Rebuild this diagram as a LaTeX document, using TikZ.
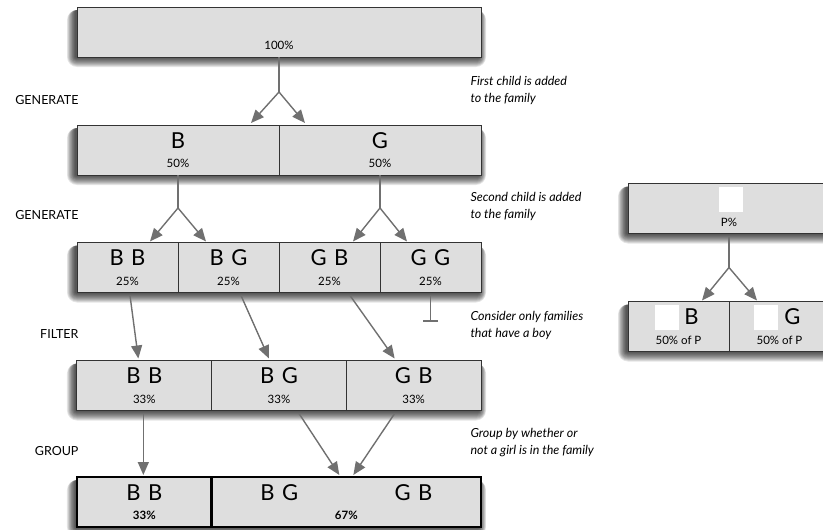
\documentclass[tikz,border=0pt]{standalone}
\usepackage{fontspec}
\setmainfont{Lato}
\usetikzlibrary{arrows.meta,positioning,calc,fit,backgrounds}

\definecolor{cellgrey}{HTML}{DEDEDE}
\definecolor{flowgrey}{HTML}{707070}

\newcommand{\kids}[1]{{\fontsize{22}{19.5}\selectfont\mdseries #1}}
\newcommand{\pair}[2]{#1\hspace{0.34em}#2}

\begin{document}
\begin{tikzpicture}
  [x=1pt,y=-1pt,
  cell/.style={rectangle,draw=black!80,fill=cellgrey,line width=1pt,inner sep=0pt,outer sep=0pt,
    minimum height=50pt,align=center,font=\fontsize{11.5}{19.5}\selectfont},
  cellbold/.style={cell,draw=black,line width=2.6pt,font=\bfseries\fontsize{11.5}{19.5}\selectfont},
  whitesq/.style={rectangle,fill=white,inner sep=0pt,minimum width=24pt,minimum height=25pt},
  steplabel/.style={anchor=east,font=\fontsize{12.5}{14}\selectfont},
  note/.style={anchor=west,align=left,font=\itshape\fontsize{12.5}{17}\selectfont},
  line/.style={draw=flowgrey,line width=1.4pt},
  flow/.style={line,-{Triangle[length=13pt,width=11pt]}},
  stopper/.style={line,-{Bar[width=15pt]}}]

  \useasboundingbox (0,0) rectangle (823,530);

  % first row: everybody
  \node [cell,minimum width=404pt] (all) at (279,32) {\kids{\phantom{B}}\\100\%};

  % one child
  \node [cell,minimum width=202pt] (b2) at (178,150) {\kids{B}\\50\%};
  \node [cell,minimum width=202pt,right=0pt of b2] (g2) {\kids{G}\\50\%};

  % two children
  \node [cell,minimum width=101pt] (bb3) at (127.5,267.5) {\kids{\pair BB}\\25\%};
  \node [cell,minimum width=101pt,right=0pt of bb3] (bg3) {\kids{\pair BG}\\25\%};
  \node [cell,minimum width=101pt,right=0pt of bg3] (gb3) {\kids{\pair GB}\\25\%};
  \node [cell,minimum width=101pt,right=0pt of gb3] (gg3) {\kids{\pair GG}\\25\%};

  % filtered
  \node [cell,minimum width=134.67pt] (bb4) at (144.33,385.5) {\kids{\pair BB}\\33\%};
  \node [cell,minimum width=134.67pt,right=0pt of bb4] (bg4) {\kids{\pair BG}\\33\%};
  \node [cell,minimum width=134.67pt,right=0pt of bg4] (gb4) {\kids{\pair GB}\\33\%};

  % grouped
  \node [cellbold,minimum width=134.67pt] (bb5) at (144.33,502) {\kids{\pair BB}\\33\%};
  \node [cellbold,minimum width=269.33pt,right=0pt of bb5] (girl5)
        {\kids{\makebox[172pt]{\pair BG\hfill\pair GB}}\\67\%};

  % legend on the right
  \node [cell,minimum width=202pt] (lp) at (729,208.5) {\kids{\phantom{B}}\\P\%};
  \node [cell,minimum width=101pt] (lb) at (678.5,326.5) {\kids{\hspace*{26pt}B}\\50\% of P};
  \node [cell,minimum width=101pt,right=0pt of lb] (lg) {\kids{\hspace*{26pt}G}\\50\% of P};
  \node [whitesq] (sqp) at ($(lp.center)+(2,-9)$) {};
  \node [whitesq] (sqb) at ($(lb.center)+(-11.5,-9)$) {};
  \node [whitesq] (sqg) at ($(lg.center)+(-13.5,-9)$) {};

  % soft shadows under each row
  \begin{scope}[on background layer]
    \foreach \first/\last in {all/all,b2/g2,bb3/gg3,bb4/gb4,bb5/girl5,lp/lp,lb/lg}
      \foreach \s in {1,...,10}
        \fill [black,opacity=0.1,rounded corners=\s pt]
          ($(\first.north west)+(-0.9*\s-1,3)$) rectangle ($(\last.south east)+(0.7*\s-2,\s)$);
  \end{scope}

  % step names
  \node [steplabel] (gen1) at (82,100) {GENERATE};
  \node [steplabel] (gen2) at (82,215) {GENERATE};
  \node [steplabel] (filt) at (82,334) {FILTER};
  \node [steplabel] (grp)  at (82,451) {GROUP};

  % notes
  \node [note] (n1) at (467,90)  {First child is added\\to the family};
  \node [note] (n2) at (467,206) {Second child is added\\to the family};
  \node [note] (n3) at (467,325) {Consider only families\\that have a boy};
  \node [note] (n4) at (467,443) {Group by whether or\\not a girl is in the family};

  % forks
  \coordinate (f1) at ($(all.south)+(0,35)$);
  \draw [line] (all.south) -- (f1);
  \draw [flow] (f1) -- ($(b2.north east)+(-28,-2)$);
  \draw [flow] (f1) -- ($(g2.north west)+(26,-2)$);

  \coordinate (f2) at ($(b2.south)+(0,33)$);
  \draw [line] (b2.south) -- (f2);
  \draw [flow] (f2) -- ($(bb3.north)+(22.5,-1)$);
  \draw [flow] (f2) -- ($(bg3.north)+(-22.5,-1)$);

  \coordinate (f3) at ($(g2.south)+(0,33)$);
  \draw [line] (g2.south) -- (f3);
  \draw [flow] (f3) -- ($(gb3.north)+(23.5,-1)$);
  \draw [flow] (f3) -- ($(gg3.north)+(-23.5,-1)$);

  \coordinate (f4) at ($(lp.south)+(0,34)$);
  \draw [line] ($(lp.south)+(0,3)$) -- (f4);
  \draw [flow] (f4) -- ($(lb.north)+(23.5,-1)$);
  \draw [flow] (f4) -- ($(lg.north)+(-22.5,-1)$);

  % filter
  \draw [flow] ($(bb3.south)+(2.5,3)$) -- ($(bb4.north)+(-6,-2)$);
  \draw [flow] ($(bg3.south)+(12.5,3)$) -- ($(bg4.north)+(-10,-2)$);
  \draw [flow] ($(gb3.south)+(20.5,3)$) -- ($(gb4.north)+(-19,-2)$);
  \coordinate (stop) at ($(gg3.south)+(0,29)$);
  \draw [stopper] ($(gg3.south)+(0,3)$) -- (stop);

  % group
  \draw [flow] ($(bb4.south)+(-1,3)$) -- ($(bb5.north)+(-1,-2)$);
  \draw [flow] ($(bg4.south)+(20,3)$) -- ($(girl5.north)+(-7,-2)$);
  \draw [flow] ($(gb4.south)+(-19,3)$) -- ($(girl5.north)+(7,-2)$);
\end{tikzpicture}
\end{document}
